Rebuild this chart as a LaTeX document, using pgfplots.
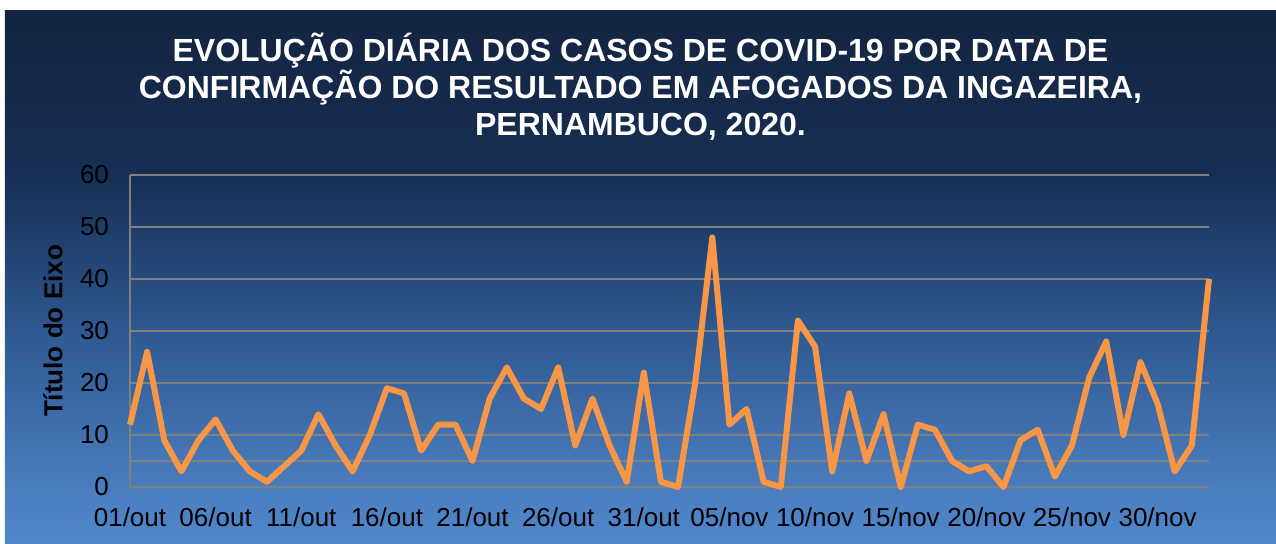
\documentclass[border=0pt]{standalone}
\usepackage{pgfplots}
\pgfplotsset{compat=1.18}
\usepackage{fontspec}
\setmainfont{Liberation Sans}
\definecolor{bgA}{RGB}{80,136,204}
\definecolor{bgB}{RGB}{74,125,190}
\definecolor{bgC}{RGB}{46,88,144}
\definecolor{bgD}{RGB}{23,47,85}
\definecolor{bgE}{RGB}{19,36,63}
\definecolor{lineor}{RGB}{247,150,70}
\definecolor{gridg}{RGB}{128,128,128}
\pgfdeclareverticalshading{bgshade}{100bp}{color(0bp)=(bgA); color(25bp)=(bgA); color(30.25bp)=(bgB); color(45bp)=(bgC); color(59.5bp)=(bgD); color(75bp)=(bgE); color(100bp)=(bgE)}
\pgfplotstableread{
x y
0 12
1 26
2 9
3 3
4 9
5 13
6 7
7 3
8 1
9 4
10 7
11 14
12 8
13 3
14 10
15 19
16 18
17 7
18 12
19 12
20 5
21 17
22 23
23 17
24 15
25 23
26 8
27 17
28 8
29 1
30 22
31 1
32 0
33 20
34 48
35 12
36 15
37 1
38 0
39 32
40 27
41 3
42 18
43 5
44 14
45 0
46 12
47 11
48 5
49 3
50 4
51 0
52 9
53 11
54 2
55 8
56 21
57 28
58 10
59 24
60 16
61 3
62 8
63 40
}\casos
\begin{document}
\begin{tikzpicture}
\begin{scope}[x=0.5pt,y=0.5pt]
\useasboundingbox (-130,-56) rectangle (1146,487);
\shade[shading=bgshade] (-125,-56) rectangle (1146,477);
\node[white, font=\bfseries\fontsize{16}{18.5}\selectfont, align=center] at (510.5,400)
 {EVOLUÇÃO DIÁRIA DOS CASOS DE COVID-19 POR DATA DE\\CONFIRMAÇÃO DO RESULTADO EM AFOGADOS DA INGAZEIRA,\\PERNAMBUCO, 2020.};
\node[black, rotate=90, font=\bfseries\fontsize{13}{15}\selectfont] at (-77,156) {Título do Eixo};
\end{scope}
\begin{axis}[
  at={(0pt,0pt)}, anchor=origin,
  scale only axis,
  width=539.5pt, height=156pt,
  xmin=0, xmax=63, ymin=0, ymax=60,
  xtick={0,5,...,60},
  xticklabels={01/out,06/out,11/out,16/out,21/out,26/out,31/out,05/nov,10/nov,15/nov,20/nov,25/nov,30/nov},
  ytick={0,10,...,60},
  extra y ticks={5},
  extra y tick labels={},
  extra y tick style={grid=major, major grid style={draw=gridg, line width=1pt}},
  ymajorgrids,
  major grid style={draw=gridg, line width=1pt},
  major tick length=0pt,
  axis x line*=bottom,
  axis y line*=left,
  axis line style={draw=gridg, line width=1pt, -},
  /pgf/number format/assume math mode=true,
  tick label style={font=\fontsize{13}{15}\selectfont, black},
  yticklabel style={xshift=-7pt},
  xticklabel style={yshift=-6.7pt},
  clip=false,
]
\addplot[lineor, line width=3pt, line join=round, mark=none] table[x=x,y=y] {\casos};
\end{axis}
\end{tikzpicture}
\end{document}
